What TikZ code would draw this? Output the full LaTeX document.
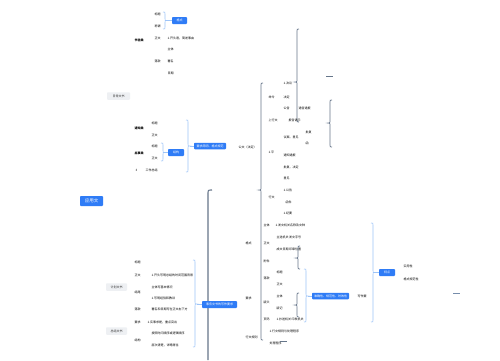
\documentclass[tikz,border=0pt]{standalone}
\usepackage{fontspec}
\newfontfamily\cjk{Noto Sans CJK SC}
\definecolor{mblue}{HTML}{2F7CF6}
\definecolor{lblue}{HTML}{9DC4F8}
\definecolor{dline}{HTML}{66768A}
\definecolor{gbox}{HTML}{EEF0F3}
% left brace "{" : x, top, tip, bottom
\newcommand{\braceL}[5][]{\draw[#1] (#2+2,#3) .. controls (#2,#3) .. (#2,#3+2) -- (#2,#4-2) .. controls (#2,#4) .. (#2-2,#4) .. controls (#2,#4) .. (#2,#4+2) -- (#2,#5-2) .. controls (#2,#5) .. (#2+2,#5);}
% right brace "}" : x, top, tip, bottom
\newcommand{\braceR}[5][]{\draw[#1] (#2-2,#3) .. controls (#2,#3) .. (#2,#3+2) -- (#2,#4-2) .. controls (#2,#4) .. (#2+2,#4) .. controls (#2,#4) .. (#2,#4+2) -- (#2,#5-2) .. controls (#2,#5) .. (#2-2,#5);}
\begin{document}
\begin{tikzpicture}[x=1pt,y=-1pt,
  every node/.style={font=\cjk\fontsize{3}{3.5}\selectfont, inner sep=0.3pt},
  t/.style={anchor=west},
  bbox/.style={fill=mblue, text=white, rounded corners=0.8pt, inner sep=0pt, minimum height=7pt},
  gbx/.style={fill=gbox, text=black!80, rounded corners=0.8pt, inner sep=0pt, minimum height=7.5pt},
  lb/.style={draw=lblue, line width=0.6pt},
  db/.style={draw=dline, line width=0.7pt}]
\useasboundingbox[fill=white] (0,0) rectangle (500,360);

% main node
\node[bbox, minimum width=23pt, minimum height=10pt, font=\cjk\fontsize{4.5}{5}\selectfont] (root) at (91.5,201) {应用文};

% ---------- top-left group ----------
\node[t] (a1) at (154,14) {标题};
\node[t] (a2) at (154,26) {称谓};
\node[t, font=\cjk\fontsize{3}{3.5}\selectfont\bfseries] (a3) at (134,40) {书信类};
\node[t] (a4) at (154,38) {正文};
\node[t] (a5) at (167,38) {1.开头语，简述事由};
\node[t] (a6) at (167,49) {主体};
\node[t] (a7) at (154,61) {落款};
\node[t] (a8) at (167,61) {署名};
\node[t] (a9) at (167,73) {日期};
\node[bbox, minimum width=15pt] (box1) at (179.5,20.5) {格式};
\braceR[lb]{165}{12}{20.5}{29}
\coordinate (tip1) at (167,20.5);
\draw[lb] (tip1) -- (box1.west);

\node[gbx, minimum width=23pt] (g1) at (118.5,96) {日常文书};

% ---------- second group ----------
\node[t, font=\cjk\fontsize{3}{3.5}\selectfont\bfseries] (b1) at (134,128) {通知类};
\node[t] (b2) at (151,123) {标题};
\node[t] (b3) at (151,135) {正文};
\node[t, font=\cjk\fontsize{3}{3.5}\selectfont\bfseries] (b4) at (134,153) {启事类};
\node[t] (b5) at (151,146) {标题};
\node[t] (b6) at (151,158) {正文};
\node[t] (b7) at (135,170) {3};
\node[t] (b8) at (145,170) {工作总结};
\node[bbox, minimum width=16pt] (box2) at (176,152.5) {结构};
\braceR[lb]{163}{143}{152.5}{161}
\coordinate (tip2) at (165,152.5);
\draw[lb] (tip2) -- (box2.west);
\node[bbox, minimum width=32pt, minimum height=6.5pt] (box3) at (210,146) {要求简明、格式规范};
\braceR[lb]{188}{120}{146}{172}
\coordinate (tip3) at (190,146);
\draw[lb] (tip3) -- (box3.west);
\node[t] (c0) at (238,147) {公文（法定）};

% ---------- right column ----------
\braceL[db]{297}{29}{82}{122}
\braceL[db]{261}{83}{190}{340}
\braceL[db]{330}{100}{123}{147}
\draw[db] (326,76) -- (333,76);

\node[t] (c1) at (283,83) {1.决议};
\node[t] (c2) at (268,97) {命令};
\node[t] (c3) at (283,97) {决定};
\node[t] (c4) at (283,108) {公告};
\node[t] (c5) at (298,108) {通告通报};
\node[t] (c6) at (268,120) {上行文};
\node[t] (c7) at (288,120) {报告请示};
\node[t] (c8) at (305,132) {批复};
\node[t] (c9) at (283,137) {议案、意见};
\node[t] (c10) at (305,143) {函};
\node[t] (c11) at (268,152) {1.平};
\node[t] (c12) at (283,155) {通知通报};
\node[t] (c13) at (283,167) {批复、决定};
\node[t] (c14) at (283,178) {意见};
\node[t] (c15) at (283,190) {1.公告};
\node[t] (c16) at (268,197) {行文};
\node[t] (c17) at (285,202) {函件};
\node[t] (c18) at (283,213) {1.纪要};
\node[t] (c19) at (263,225) {主体};
\node[t] (c20) at (275,225) {1.发文机关名称及文种};
\node[t] (c21) at (245,243) {格式};
\node[t] (c22) at (263,243) {正文};
\node[t] (c23) at (276,237) {主送机关\,发文字号};
\node[t] (c24) at (276,249) {成文日期\,印章位置};
\node[t] (c25) at (263,261) {附件};
\node[t] (c26) at (276,272) {标题};
\node[t] (c27) at (263,278) {落款};
\node[t] (c28) at (276,284) {正文};
\node[t] (c29) at (276,296) {主体};
\node[t] (c30) at (245,298) {要求};
\node[t] (c31) at (263,302) {版头};
\node[t] (c32) at (276,308) {版记};
\node[t] (c33) at (263,319) {页码};
\node[t] (c34) at (276,319) {1.抄送机关\,印发机关};
\node[t] (c35) at (269,331) {1.行文规则与处理程序};
\node[t] (c36) at (245,337) {行文规则};
\node[t] (c37) at (269,343) {处理程序};
\draw[db] (280,341) -- (287,341);

\braceL[db]{298}{246}{258}{269}
\braceL[db]{297}{293}{305}{317}
\node[bbox, minimum width=37pt, minimum height=6.5pt] (box5) at (330.5,296) {准确性、规范性、时效性};
\braceR[lb]{306}{269}{296}{322}
\coordinate (tip5) at (308,296);
\draw[lb] (tip5) -- (box5.west);
\node[t] (d1) at (357,296) {写作要};

\node[bbox, minimum width=16pt] (box6) at (387,272.5) {特点};
\braceR[lb]{373}{223}{272.5}{322}
\coordinate (tip6) at (375,272.5);
\draw[lb] (tip6) -- (box6.west);
\node[t] (d2) at (403,266) {实用性};
\node[t] (d3) at (403,279) {格式规范性};
\draw[draw=dline!70!lblue, line width=0.7pt] (453,293) -- (460,293);

% ---------- bottom-left group ----------
\draw[dline, line width=1.1pt] (212,190) .. controls (208,190) .. (208,194) -- (208,360);
\node[t] (e1) at (134,262) {标题};
\node[t] (e2) at (134,275) {正文};
\node[t] (e3) at (151,275) {1.开头写明总结的时间范围背景};
\node[t] (e4) at (151,287) {主体写基本情况};
\node[t] (e5) at (134,292) {结尾};
\node[t] (e6) at (151,298) {1.写明经验和教训};
\node[t] (e7) at (134,309) {落款};
\node[t] (e8) at (151,309) {署名和日期写在正文右下方};
\node[t] (e9) at (134,322) {要求};
\node[t] (e10) at (147,322) {1.实事求是，重点突出};
\node[t] (e11) at (134,340) {结构};
\node[t] (e12) at (151,333) {按照时间顺序或逻辑顺序};
\node[t] (e13) at (151,345) {层次清楚，详略得当};
\node[gbx, minimum width=21pt] (g2) at (116.5,287) {计划文书};
\node[gbx, minimum width=21pt] (g3) at (116.5,331) {总结文书};
\braceR[lb]{195}{260}{304}{347}
\node[bbox, minimum width=35pt] (box4) at (219.5,304.5) {事务文书的写作要求};
\coordinate (tip4) at (197,304.5);
\draw[lb] (tip4) -- (box4.west);
\end{tikzpicture}
\end{document}
